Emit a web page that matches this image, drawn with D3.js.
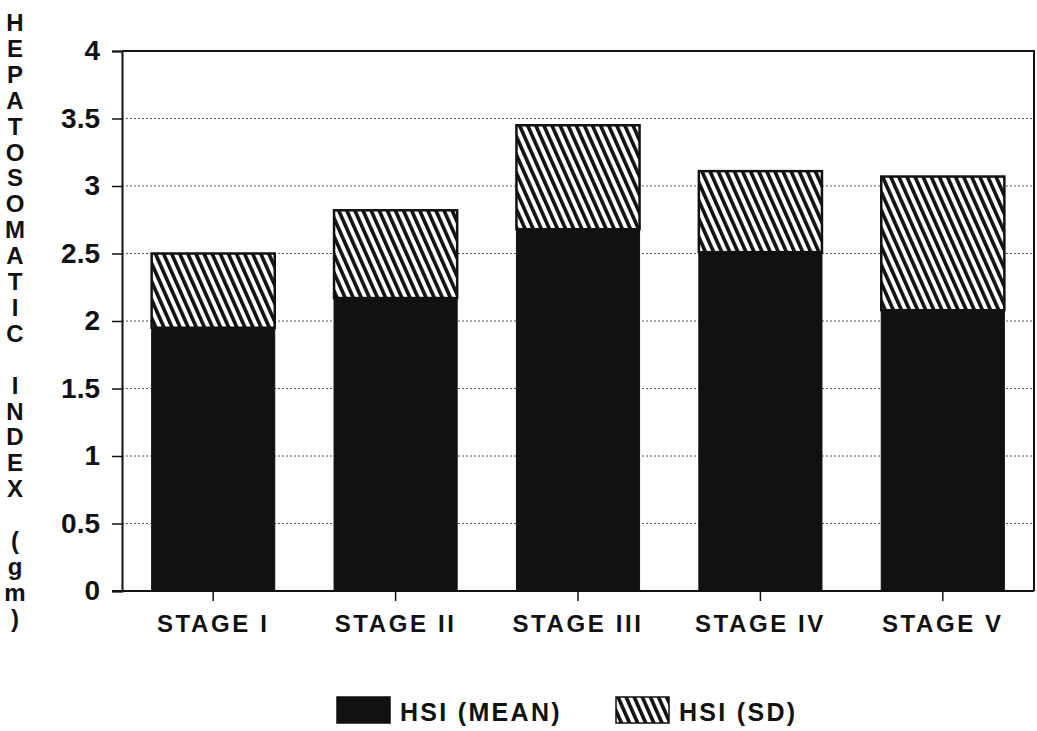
<!DOCTYPE html>
<html>
<head>
<meta charset="utf-8">
<script src="https://cdn.jsdelivr.net/npm/d3@7"></script>
<style>
  html, body { margin: 0; padding: 0; background: #fff; }
  svg { display: block; }
  text { font-family: "Liberation Sans", Arial, sans-serif; font-weight: bold; fill: #111; }
</style>
</head>
<body>
<svg id="chart" width="1037" height="731"></svg>
<script>
// Hepatosomatic index by maturity stage
const stages = ["STAGE I", "STAGE II", "STAGE III", "STAGE IV", "STAGE V"];
const hsiMean = [1.95, 2.17, 2.68, 2.51, 2.08];
const hsiSD = [0.55, 0.65, 0.77, 0.60, 0.99];
const yTicks = [0, 0.5, 1, 1.5, 2, 2.5, 3, 3.5, 4];
const seriesNames = ["HSI (MEAN)", "HSI (SD)"];
const yTitle = "HEPATOSOMATIC INDEX (gm)";

const svg = d3.select("#chart");
const plotLeft = 122, plotRight = 1034, plotTop = 51, plotBottom = 591;
const ink = "#111";

const x = d3.scaleBand().domain(stages).range([plotLeft, plotRight])
  .paddingInner(0.325).paddingOuter(0.1625);
const y = d3.scaleLinear().domain([0, 4]).range([plotBottom, plotTop]);

// hatch fill for the SD segment
const defs = svg.append("defs");
const pat = defs.append("pattern")
  .attr("id", "hatch").attr("patternUnits", "userSpaceOnUse")
  .attr("width", 7.4).attr("height", 20)
  .attr("patternTransform", "rotate(-24)");
pat.append("rect").attr("width", 7.4).attr("height", 20).attr("fill", "#fff");
pat.append("rect").attr("x", 0).attr("width", 3.6).attr("height", 20).attr("fill", ink);

// dotted gridlines
svg.append("g").selectAll("line")
  .data(yTicks.filter(d => d > 0 && d < 4))
  .join("line")
  .attr("x1", plotLeft).attr("x2", plotRight)
  .attr("y1", d => y(d)).attr("y2", d => y(d))
  .attr("stroke", "#555").attr("stroke-width", 1)
  .attr("stroke-dasharray", "2,2");

// frame: top and right edges
svg.append("path")
  .attr("d", `M${plotLeft},${y(4)}H${plotRight}V${y(0)}`)
  .attr("fill", "none").attr("stroke", ink).attr("stroke-width", 2);

// stacked data
const rows = stages.map((s, i) => ({ stage: s, mean: hsiMean[i], sd: hsiSD[i] }));
const stack = d3.stack().keys(["mean", "sd"])(rows);

const layers = svg.append("g").selectAll("g")
  .data(stack).join("g");

layers.selectAll("rect")
  .data(d => d.map(v => ({ key: d.key, v })))
  .join("rect")
  .attr("x", d => x(d.v.data.stage))
  .attr("width", x.bandwidth())
  .attr("y", d => y(d.v[1]))
  .attr("height", d => y(d.v[0]) - y(d.v[1]))
  .attr("fill", d => d.key === "mean" ? ink : "url(#hatch)")
  .attr("stroke", ink)
  .attr("stroke-width", d => d.key === "mean" ? 1 : 2.5);

// y axis
const yAxis = svg.append("g")
  .attr("transform", `translate(${plotLeft},0)`)
  .call(d3.axisLeft(y).tickValues(yTicks).tickSize(10).tickPadding(12)
    .tickFormat(d3.format("")));
yAxis.select(".domain").attr("stroke", ink).attr("stroke-width", 2);
yAxis.selectAll(".tick line").attr("stroke", ink).attr("stroke-width", 1.5);
yAxis.selectAll("text")
  .attr("font-size", 28).attr("fill", ink)
  .style("font-family", "'Liberation Sans', Arial, sans-serif")
  .style("font-weight", "bold");

// x axis
const xAxis = svg.append("g")
  .attr("transform", `translate(0,${plotBottom})`)
  .call(d3.axisBottom(x).tickSize(10).tickPadding(14).tickSizeOuter(0));
xAxis.select(".domain").attr("stroke", ink).attr("stroke-width", 2)
  .attr("d", `M${plotLeft - 10},0H${plotRight}`);
xAxis.selectAll(".tick line").attr("stroke", ink).attr("stroke-width", 1.5);
xAxis.selectAll("text")
  .attr("font-size", 24).attr("fill", ink)
  .attr("letter-spacing", 2.6)
  .style("font-family", "'Liberation Sans', Arial, sans-serif")
  .style("font-weight", "bold");

// vertical stacked-letter axis title
const chars = Array.from(yTitle);
const step = 25.9;
svg.append("text")
  .attr("font-size", 24)
  .attr("text-anchor", "middle")
  .selectAll("tspan")
  .data(chars)
  .join("tspan")
  .attr("x", 15)
  .attr("y", (d, i) => 31 + i * step)
  .text(d => d);

// legend
const legend = svg.append("g");
const legendItems = [
  { name: seriesNames[0], fill: ink, x: 337 },
  { name: seriesNames[1], fill: "url(#hatch)", x: 616 }
];
const li = legend.selectAll("g").data(legendItems).join("g")
  .attr("transform", d => `translate(${d.x},697)`);
li.append("rect")
  .attr("width", 53).attr("height", 26)
  .attr("fill", d => d.fill).attr("stroke", ink).attr("stroke-width", 1.5);
li.append("text")
  .attr("x", 63).attr("y", 24)
  .attr("font-size", 25).attr("letter-spacing", 2.3)
  .text(d => d.name);
</script>
</body>
</html>
